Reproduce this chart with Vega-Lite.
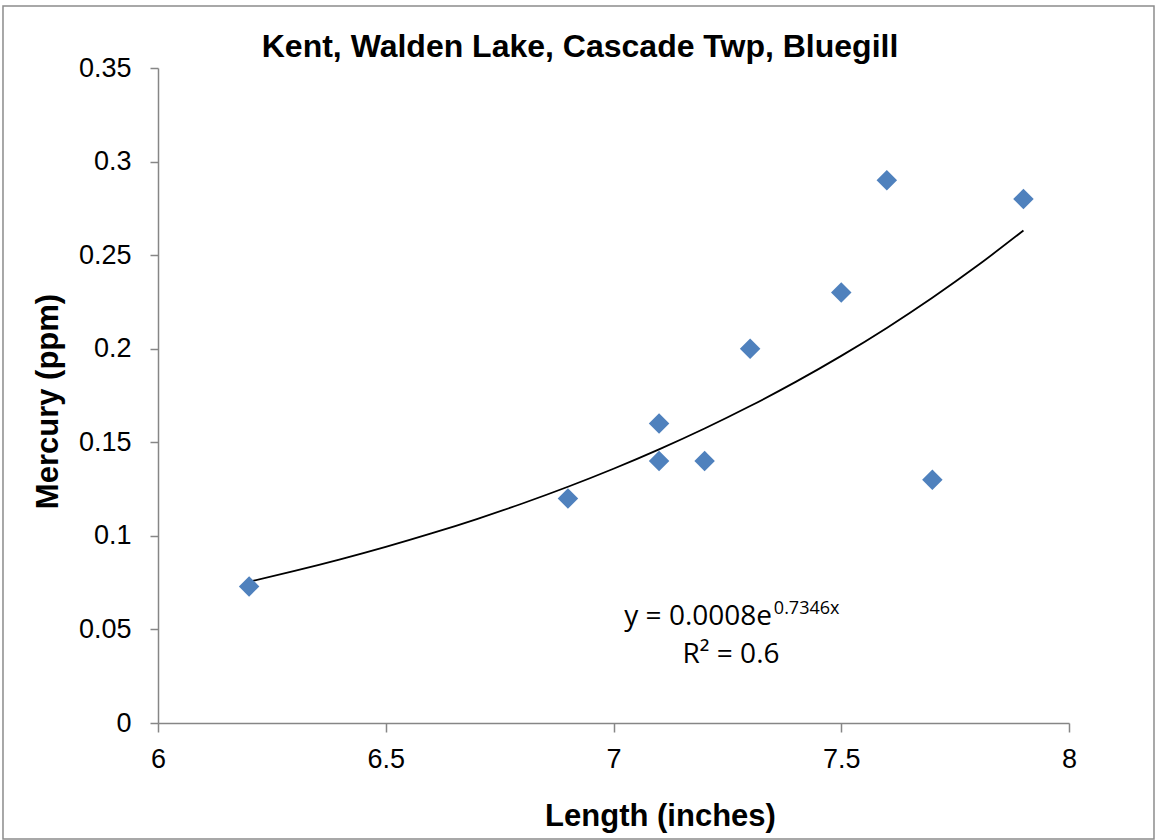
{
  "$schema": "https://vega.github.io/schema/vega-lite/v6.json",
  "width": 911,
  "height": 655,
  "autosize": {"type": "none"},
  "padding": {"left": 158, "top": 68, "right": 87, "bottom": 117},
  "background": "white",
  "config": {"view": {"stroke": null}, "font": "Liberation Sans"},
  "datasets": {
    "fish": [
      {"length": 6.2, "mercury": 0.073},
      {"length": 6.9, "mercury": 0.12},
      {"length": 7.1, "mercury": 0.16},
      {"length": 7.1, "mercury": 0.14},
      {"length": 7.2, "mercury": 0.14},
      {"length": 7.3, "mercury": 0.2},
      {"length": 7.5, "mercury": 0.23},
      {"length": 7.6, "mercury": 0.29},
      {"length": 7.7, "mercury": 0.13},
      {"length": 7.9, "mercury": 0.28}
    ],
    "trend": [
      {"length": 6.2, "mercury": 0.07548},
      {"length": 6.3, "mercury": 0.08123},
      {"length": 6.4, "mercury": 0.08742},
      {"length": 6.5, "mercury": 0.09409},
      {"length": 6.6, "mercury": 0.10127},
      {"length": 6.7, "mercury": 0.10899},
      {"length": 6.8, "mercury": 0.1173},
      {"length": 6.9, "mercury": 0.12623},
      {"length": 7.0, "mercury": 0.13586},
      {"length": 7.1, "mercury": 0.14622},
      {"length": 7.2, "mercury": 0.15736},
      {"length": 7.3, "mercury": 0.16936},
      {"length": 7.4, "mercury": 0.18227},
      {"length": 7.5, "mercury": 0.19617},
      {"length": 7.6, "mercury": 0.21112},
      {"length": 7.7, "mercury": 0.22722},
      {"length": 7.8, "mercury": 0.24455},
      {"length": 7.9, "mercury": 0.26319}
    ],
    "frame": [{"t": "frame"}],
    "title": [{"t": "Kent, Walden Lake, Cascade Twp, Bluegill"}],
    "eq": [{"t": "y = 0.0008e"}],
    "sup": [{"t": "0.7346x"}],
    "r2": [{"t": "R² = 0.6"}]
  },
  "layer": [
    {
      "data": {"name": "frame"},
      "mark": {"type": "rect", "filled": false, "stroke": "#8c8c8c", "strokeWidth": 1.5},
      "encoding": {
        "x": {"datum": 5.6597, "type": "quantitative"},
        "x2": {"datum": 8.1866},
        "y": {"datum": 0.38313, "type": "quantitative"},
        "y2": {"datum": -0.06198}
      }
    },
    {
      "data": {"name": "trend"},
      "mark": {"type": "line", "color": "black", "strokeWidth": 1.8, "interpolate": "monotone"},
      "encoding": {
        "x": {"field": "length", "type": "quantitative", "title": "Length (inches)"},
        "y": {"field": "mercury", "type": "quantitative", "title": "Mercury (ppm)"}
      }
    },
    {
      "data": {"name": "fish"},
      "mark": {"type": "point", "shape": "diamond", "filled": true, "size": 420, "color": "#4F81BD", "opacity": 1},
      "encoding": {
        "x": {
          "field": "length",
          "type": "quantitative",
          "scale": {"domain": [6, 8], "nice": false, "zero": false},
          "axis": {
            "values": [6, 6.5, 7, 7.5, 8],
            "format": "~g",
            "grid": false,
            "labelFlush": false,
            "labelFont": "Liberation Sans",
            "labelFontSize": 27,
            "labelColor": "black",
            "labelPadding": 14,
            "tickSize": 9,
            "tickColor": "#868686",
            "tickWidth": 1.5,
            "domainColor": "#868686",
            "domainWidth": 1.5,
            "title": "Length (inches)",
            "titleFont": "Liberation Sans",
            "titleFontSize": 31,
            "titleFontWeight": "bold",
            "titleColor": "black",
            "titleX": 502,
            "titleY": 102,
            "titleBaseline": "alphabetic",
            "titleAlign": "center"
          }
        },
        "y": {
          "field": "mercury",
          "type": "quantitative",
          "scale": {"domain": [0, 0.35], "nice": false},
          "axis": {
            "values": [0, 0.05, 0.1, 0.15, 0.2, 0.25, 0.3, 0.35],
            "format": "~g",
            "grid": false,
            "labelFont": "Liberation Sans",
            "labelFontSize": 27,
            "labelColor": "black",
            "labelPadding": 19,
            "tickSize": 8,
            "tickColor": "#868686",
            "tickWidth": 1.5,
            "domainColor": "#868686",
            "domainWidth": 1.5,
            "title": "Mercury (ppm)",
            "titleFont": "Liberation Sans",
            "titleFontSize": 31,
            "titleFontWeight": "bold",
            "titleColor": "black",
            "titleAngle": -90,
            "titleX": -101,
            "titleY": 333,
            "titleBaseline": "alphabetic",
            "titleAlign": "center"
          }
        }
      }
    },
    {
      "data": {"name": "title"},
      "mark": {"type": "text", "align": "center", "baseline": "alphabetic", "fontSize": 32, "fontWeight": "bold", "font": "Liberation Sans", "color": "black"},
      "encoding": {
        "x": {"datum": 6.9265, "type": "quantitative"},
        "y": {"datum": 0.35588, "type": "quantitative"},
        "text": {"field": "t", "type": "nominal"}
      }
    },
    {
      "data": {"name": "eq"},
      "mark": {"type": "text", "align": "right", "baseline": "alphabetic", "fontSize": 28, "font": "Open Sans", "color": "black"},
      "encoding": {
        "x": {"datum": 7.348, "type": "quantitative"},
        "y": {"datum": 0.05237, "type": "quantitative"},
        "text": {"field": "t", "type": "nominal"}
      }
    },
    {
      "data": {"name": "sup"},
      "mark": {"type": "text", "align": "left", "baseline": "alphabetic", "fontSize": 18, "font": "Open Sans", "color": "black"},
      "encoding": {
        "x": {"datum": 7.352, "type": "quantitative"},
        "y": {"datum": 0.05824, "type": "quantitative"},
        "text": {"field": "t", "type": "nominal"}
      }
    },
    {
      "data": {"name": "r2"},
      "mark": {"type": "text", "align": "center", "baseline": "alphabetic", "fontSize": 28, "font": "Open Sans", "color": "black"},
      "encoding": {
        "x": {"datum": 7.258, "type": "quantitative"},
        "y": {"datum": 0.03206, "type": "quantitative"},
        "text": {"field": "t", "type": "nominal"}
      }
    }
  ]
}
